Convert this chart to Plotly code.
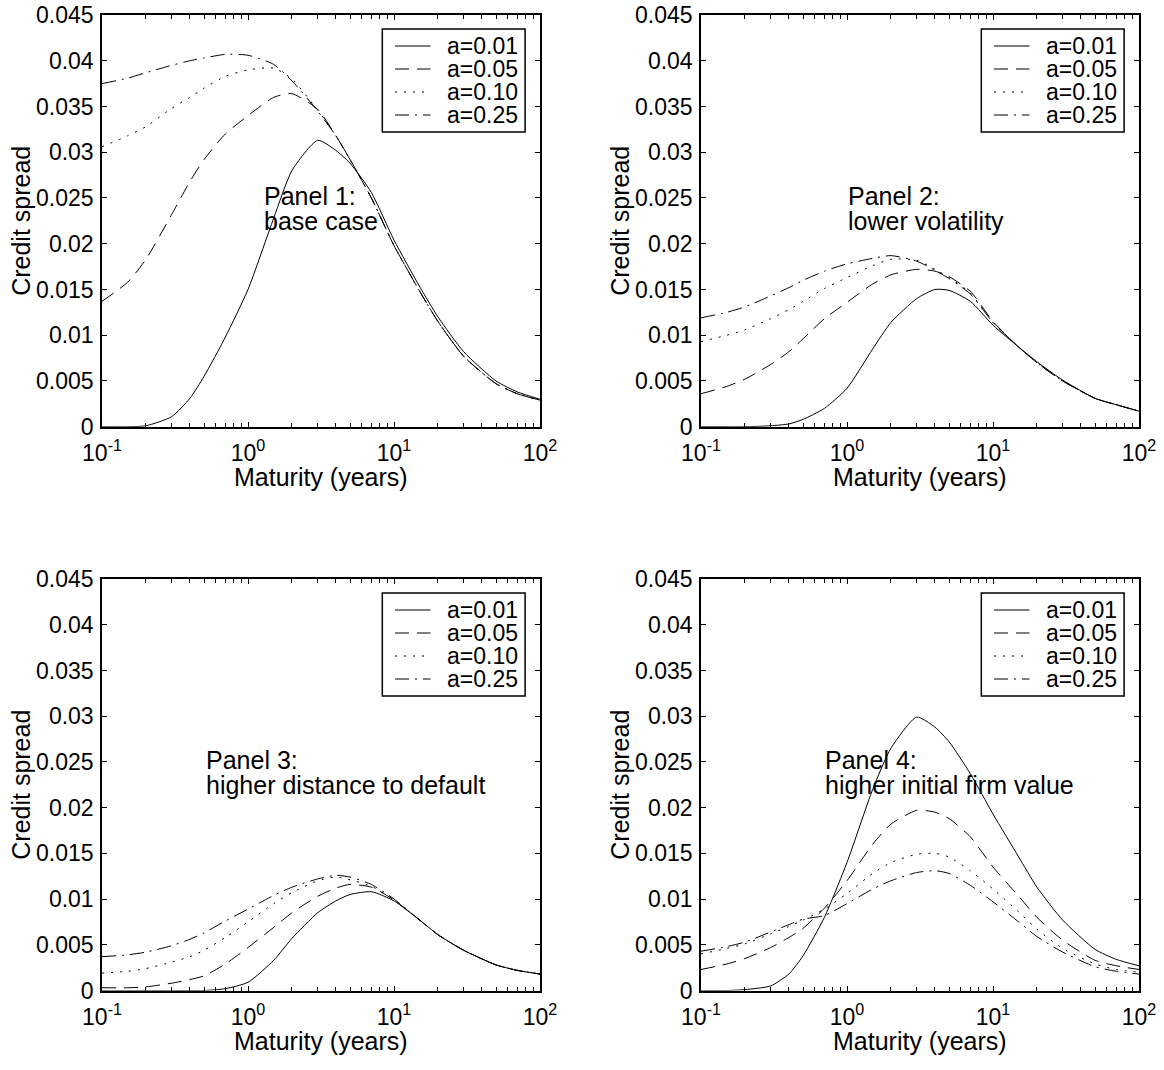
import math
import plotly.graph_objects as go

# Maturities (years) at which the spreads are tabulated
maturity = [0.1, 0.15, 0.2, 0.3, 0.4, 0.5, 0.7, 1, 1.5, 2, 3, 4, 5, 7,
            10, 15, 20, 30, 50, 70, 100]

series_labels = ["a=0.01", "a=0.05", "a=0.10", "a=0.25"]

# Panel 1: base case
p1_a001 = [0.0, 0.0, 0.0001, 0.0011, 0.0031, 0.0055, 0.0098, 0.0150, 0.0228, 0.0280,
           0.0313, 0.0302, 0.0288, 0.0256, 0.0204, 0.0153, 0.0120, 0.0082, 0.0050, 0.0038, 0.0030]
p1_a005 = [0.0137, 0.0158, 0.0183, 0.0232, 0.0268, 0.0292, 0.0320, 0.0340, 0.0360, 0.0364,
           0.0347, 0.0318, 0.0292, 0.0250, 0.0198, 0.0148, 0.0115, 0.0077, 0.0047, 0.0036, 0.0029]
p1_a010 = [0.0306, 0.0318, 0.0328, 0.0348, 0.0360, 0.0370, 0.0383, 0.0390, 0.0392, 0.0380,
           0.0346, 0.0318, 0.0292, 0.0250, 0.0198, 0.0148, 0.0115, 0.0077, 0.0047, 0.0036, 0.0029]
p1_a025 = [0.0375, 0.0381, 0.0387, 0.0395, 0.0400, 0.0403, 0.0407, 0.0406, 0.0396, 0.0378,
           0.0345, 0.0318, 0.0292, 0.0250, 0.0198, 0.0148, 0.0115, 0.0077, 0.0047, 0.0036, 0.0029]

# Panel 2: lower volatility
p2_a001 = [0.0, 0.0, 0.0, 0.0001, 0.0003, 0.0008, 0.0020, 0.0042, 0.0085, 0.0114,
           0.0140, 0.0150, 0.0149, 0.0137, 0.0111, 0.0087, 0.0071, 0.0051, 0.0031, 0.0024, 0.0017]
p2_a005 = [0.0036, 0.0044, 0.0052, 0.0068, 0.0082, 0.0096, 0.0118, 0.0136, 0.0156, 0.0166,
           0.0172, 0.0170, 0.0164, 0.0148, 0.0115, 0.0087, 0.0070, 0.0050, 0.0031, 0.0024, 0.0017]
p2_a010 = [0.0093, 0.0100, 0.0106, 0.0118, 0.0128, 0.0137, 0.0151, 0.0163, 0.0176, 0.0183,
           0.0182, 0.0172, 0.0163, 0.0146, 0.0114, 0.0087, 0.0070, 0.0050, 0.0031, 0.0024, 0.0017]
p2_a025 = [0.0119, 0.0125, 0.0131, 0.0143, 0.0152, 0.0160, 0.0170, 0.0178, 0.0184, 0.0187,
           0.0181, 0.0171, 0.0162, 0.0145, 0.0114, 0.0087, 0.0070, 0.0050, 0.0031, 0.0024, 0.0017]

# Panel 3: higher distance to default
p3_a001 = [0.0, 0.0, 0.0, 0.0, 0.0, 0.0, 0.0002, 0.0009, 0.0033, 0.0057,
           0.0085, 0.0098, 0.0105, 0.0108, 0.0098, 0.0077, 0.0061, 0.0044, 0.0028, 0.0022, 0.0018]
p3_a005 = [0.0003, 0.0003, 0.0004, 0.0008, 0.0012, 0.0016, 0.0029, 0.0047, 0.0069, 0.0085,
           0.0103, 0.0112, 0.0116, 0.0113, 0.0099, 0.0077, 0.0061, 0.0044, 0.0028, 0.0022, 0.0018]
p3_a010 = [0.0019, 0.0021, 0.0024, 0.0031, 0.0037, 0.0044, 0.0058, 0.0075, 0.0095, 0.0107,
           0.0120, 0.0124, 0.0121, 0.0114, 0.0099, 0.0077, 0.0061, 0.0044, 0.0028, 0.0022, 0.0018]
p3_a025 = [0.0037, 0.0039, 0.0042, 0.0049, 0.0056, 0.0063, 0.0076, 0.0089, 0.0104, 0.0113,
           0.0122, 0.0126, 0.0124, 0.0116, 0.0100, 0.0077, 0.0061, 0.0044, 0.0028, 0.0022, 0.0018]

# Panel 4: higher initial firm value
p4_a001 = [0.0, 0.0, 0.0001, 0.0005, 0.0018, 0.0038, 0.0080, 0.0140, 0.0220, 0.0265,
           0.0299, 0.0288, 0.0272, 0.0237, 0.0193, 0.0146, 0.0113, 0.0077, 0.0045, 0.0034, 0.0027]
p4_a005 = [0.0023, 0.0029, 0.0035, 0.0047, 0.0058, 0.0068, 0.0090, 0.0120, 0.0160, 0.0182,
           0.0197, 0.0195, 0.0188, 0.0168, 0.0135, 0.0103, 0.0080, 0.0055, 0.0033, 0.0027, 0.0023]
p4_a010 = [0.0040, 0.0046, 0.0051, 0.0062, 0.0070, 0.0077, 0.0089, 0.0106, 0.0128, 0.0140,
           0.0149, 0.0150, 0.0146, 0.0131, 0.0111, 0.0086, 0.0067, 0.0046, 0.0029, 0.0023, 0.0020]
p4_a025 = [0.0043, 0.0048, 0.0053, 0.0064, 0.0072, 0.0078, 0.0082, 0.0095, 0.0111, 0.0120,
           0.0129, 0.0131, 0.0128, 0.0115, 0.0097, 0.0075, 0.0059, 0.0042, 0.0026, 0.0021, 0.0018]

panel_series = [
    [p1_a001, p1_a005, p1_a010, p1_a025],
    [p2_a001, p2_a005, p2_a010, p2_a025],
    [p3_a001, p3_a005, p3_a010, p3_a025],
    [p4_a001, p4_a005, p4_a010, p4_a025],
]
panel_notes = [
    ("Panel 1:", "base case"),
    ("Panel 2:", "lower volatility"),
    ("Panel 3:", "higher distance to default"),
    ("Panel 4:", "higher initial firm value"),
]
# Note anchor (maturity, spread) for the first and second line
note_x = [1.25, 0.99, 0.50, 0.685]
note_y = [0.0252, 0.0225]

x_tickvals = [0.1, 1, 10, 100]
x_ticktext = ["10<sup>-1</sup>", "10<sup>0</sup>", "10<sup>1</sup>", "10<sup>2</sup>"]
x_minor = [m * 10 ** e for e in (-1, 0, 1) for m in range(2, 10)]
y_tickvals = [0, 0.005, 0.01, 0.015, 0.02, 0.025, 0.03, 0.035, 0.04, 0.045]
y_ticktext = ["0", "0.005", "0.01", "0.015", "0.02", "0.025", "0.03", "0.035", "0.04", "0.045"]

# Line styles (solid, dashed, dotted, dash-dot)
dashes = ["solid", "14px,8px", "2px,7px", "14px,6px,2px,6px"]

W, H = 1164, 1070
FONT = "Liberation Sans, Arial, Helvetica, sans-serif"
TICK_FS = 23
LABEL_FS = 25

# Panel boxes in pixels: (left, right, top, bottom)
boxes = [(102, 540, 15, 426.7), (701, 1139, 15, 426.7),
         (102, 540, 579, 990.5), (701, 1139, 579, 990.5)]

# Legend box placement inside each panel (fractions of the plot area)
LEG_X0, LEG_X1 = 0.640, 0.966
LEG_TOP_PX, LEG_ROW_PX, LEG_PAD_PX = 14, 23, 17
LEG_LINE_X0, LEG_LINE_X1, LEG_TEXT_X = 0.669, 0.750, 0.783

fig = go.Figure()
layout = dict(
    width=W, height=H,
    margin=dict(l=0, r=0, t=0, b=0),
    paper_bgcolor="white", plot_bgcolor="white",
    font=dict(family=FONT, size=TICK_FS, color="black"),
    showlegend=False,
    annotations=[], shapes=[],
)

for i, (series, box) in enumerate(zip(panel_series, boxes)):
    n = i + 1
    xs = "" if n == 1 else str(n)
    l, r, t, b = box
    ph = b - t
    xdom = [l / W, r / W]
    ydom = [1 - b / H, 1 - t / H]

    for vals, lab, dash in zip(series, series_labels, dashes):
        fig.add_trace(go.Scatter(
            x=maturity, y=vals, mode="lines", name=lab,
            line=dict(color="black", width=1, dash=dash, shape="spline", smoothing=0.6),
            xaxis=f"x{xs}", yaxis=f"y{xs}",
        ))

    layout[f"xaxis{xs}"] = dict(
        type="log", range=[-1, 2], domain=xdom, anchor=f"y{xs}",
        tickmode="array", tickvals=x_tickvals, ticktext=x_ticktext,
        ticks="inside", ticklen=5, tickwidth=1, tickcolor="black",
        showline=True, linecolor="black", linewidth=1.5, mirror="allticks",
        showgrid=False, zeroline=False, automargin=False, ticklabelstandoff=5,
        tickfont=dict(family=FONT, size=TICK_FS, color="black"),
        minor=dict(tickmode="array", tickvals=x_minor, ticks="inside",
                   ticklen=4, tickcolor="black", showgrid=False),
    )
    layout[f"yaxis{xs}"] = dict(
        range=[0, 0.045], domain=ydom, anchor=f"x{xs}",
        tickmode="array", tickvals=y_tickvals, ticktext=y_ticktext,
        ticks="inside", ticklen=5, tickwidth=1, tickcolor="black",
        showline=True, linecolor="black", linewidth=1.5, mirror="allticks",
        showgrid=False, zeroline=False, automargin=False, ticklabelstandoff=2,
        tickfont=dict(family=FONT, size=TICK_FS, color="black"),
    )

    # Legend: framed box with a line sample and a label per series
    xd, yd = f"x{xs} domain", f"y{xs} domain"
    top_f = 1 - LEG_TOP_PX / ph
    bot_f = 1 - (LEG_TOP_PX + 3 * LEG_ROW_PX + 2 * LEG_PAD_PX) / ph
    layout["shapes"].append(dict(
        type="rect", xref=xd, yref=yd, x0=LEG_X0, x1=LEG_X1, y0=bot_f, y1=top_f,
        line=dict(color="black", width=1.5), fillcolor="white", layer="above",
    ))
    for k, (lab, dash) in enumerate(zip(series_labels, dashes)):
        row_f = 1 - (LEG_TOP_PX + LEG_PAD_PX + k * LEG_ROW_PX) / ph
        layout["shapes"].append(dict(
            type="line", xref=xd, yref=yd, x0=LEG_LINE_X0, x1=LEG_LINE_X1,
            y0=row_f, y1=row_f, line=dict(color="black", width=1, dash=dash),
            layer="above",
        ))
        layout["annotations"].append(dict(
            x=LEG_TEXT_X, y=row_f, xref=xd, yref=yd, text=lab, showarrow=False,
            xanchor="left", yanchor="middle",
            font=dict(family=FONT, size=TICK_FS, color="black"),
        ))

    # Panel notes (two lines); log axis annotations take log10 positions
    for line_txt, yv in zip(panel_notes[i], note_y):
        layout["annotations"].append(dict(
            x=math.log10(note_x[i]), y=yv, xref=f"x{xs}", yref=f"y{xs}", text=line_txt,
            showarrow=False, xanchor="left", yanchor="middle",
            font=dict(family=FONT, size=LABEL_FS, color="black"),
        ))
    # Axis titles
    layout["annotations"].append(dict(
        x=0.5, y=0, xref=xd, yref=yd,
        text="Maturity (years)", showarrow=False, xanchor="center", yanchor="middle",
        yshift=-50, font=dict(family=FONT, size=LABEL_FS, color="black"),
    ))
    layout["annotations"].append(dict(
        x=0, y=0.5, xref=xd, yref=yd,
        text="Credit spread", showarrow=False, xanchor="center", yanchor="middle",
        textangle=-90, xshift=-81, font=dict(family=FONT, size=LABEL_FS, color="black"),
    ))

fig.update_layout(**layout)
fig.write_html("out.html")
